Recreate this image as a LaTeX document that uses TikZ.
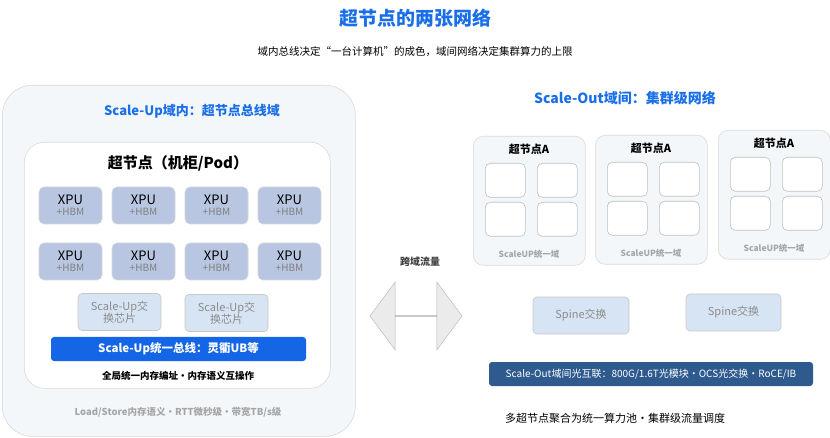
\documentclass[tikz,border=0pt]{standalone}
\usepackage{fontspec}
\setmainfont{Noto Sans CJK SC}
\usetikzlibrary{shapes.arrows}
\definecolor{titleblue}{HTML}{1A6FE8}
\definecolor{busblue}{HTML}{1466E6}
\definecolor{outblue}{HTML}{2F5A8E}
\definecolor{xpufill}{HTML}{B8C6E2}
\definecolor{swfill}{HTML}{D7E4F3}
\definecolor{panel}{HTML}{F3F7FA}
\tikzset{
  box/.style={draw=black!15,rounded corners=#1,line width=0.6pt},
  xpu/.style={box=5pt,fill=xpufill,minimum width=63pt,minimum height=37pt,align=center,inner sep=0pt},
  sw/.style={box=4pt,fill=swfill,draw=black!22,text=black!45,minimum width=83pt,minimum height=37pt,align=center,inner sep=0pt,font=\fontsize{11}{12}\selectfont},
  cell/.style={box=5pt,fill=white,draw=black!25,minimum width=40pt,minimum height=34pt},
  bar/.style={rounded corners=3pt,text=white,inner sep=0pt},
}
\newcommand{\snode}[3]{% name, x, y (top-left)
  \node[box=10pt,fill=panel,minimum width=112pt,minimum height=129pt,anchor=north west] (#1) at (#2,#3) {};
  \node[font=\bfseries\fontsize{11}{12}\selectfont] (#1t) at (#2+56,#3+13) {超节点A};
  \node[cell,anchor=north west] (#1a) at (#2+12,#3+27) {};
  \node[cell,anchor=north west] (#1b) at (#2+64,#3+27) {};
  \node[cell,anchor=north west] (#1c) at (#2+12,#3+66) {};
  \node[cell,anchor=north west] (#1d) at (#2+64,#3+66) {};
  \node[text=black!35,font=\bfseries\fontsize{8.5}{9}\selectfont] (#1l) at (#2+56,#3+118) {ScaleUP统一域};
}
\begin{document}
\begin{tikzpicture}[x=1pt,y=-1pt]
  \useasboundingbox (0,0) rectangle (830,438);
  % titles
  \node[text=titleblue,font=\bfseries\fontsize{19}{22}\selectfont] (title) at (415,18) {超节点的两张网络};
  \node[font=\fontsize{10.5}{12}\selectfont] (sub) at (415,52) {域内总线决定“一台计算机”的成色，域间网络决定集群算力的上限};
  % left panel
  \node[box=30pt,fill=panel,minimum width=353pt,minimum height=351pt,anchor=north west] (up) at (2,85) {};
  \node[text=titleblue,font=\bfseries\fontsize{13}{15}\selectfont] (uptitle) at (192,111) {Scale-Up域内：超节点总线域};
  \node[box=20pt,fill=white,minimum width=306pt,minimum height=246pt,anchor=north west] (pod) at (24,142) {};
  \node[font=\bfseries\fontsize{15}{17}\selectfont] (podt) at (178,163) {超节点（机柜/Pod）};
  \foreach \r/\y in {1/205.5,2/261.5}
    \foreach \c/\x in {1/70.5,2/143.5,3/216.5,4/289.5}
      \node[xpu] (xpu\r\c) at (\x,\y) {\fontsize{13}{14}\selectfont XPU\\[-1pt]{\color{black!50}\fontsize{10}{11}\selectfont +HBM}};
  \node[sw] (sw1) at (119.5,312) {Scale-Up交\\换芯片};
  \node[sw] (sw2) at (226.5,313) {Scale-Up交\\换芯片};
  \node[bar,fill=busblue,minimum width=255pt,minimum height=24pt,font=\bfseries\fontsize{11.5}{13}\selectfont] (bus) at (178.5,349) {Scale-Up统一总线：灵衢UB等};
  \node[font=\bfseries\fontsize{9.5}{11}\selectfont] (mem) at (178,376) {全局统一内存编址·内存语义互操作};
  \node[text=black!35,font=\bfseries\fontsize{9.5}{11}\selectfont] (ls) at (178,412) {Load/Store内存语义·RTT微秒级·带宽TB/s级};
  % cross-domain arrow
  \node[double arrow,draw=black!30,fill=black!8,minimum width=68pt,minimum height=92pt,double arrow head extend=16pt,double arrow tip angle=107,inner sep=0pt] (cross) at (416,316) {};
  \node[font=\bfseries\fontsize{10}{12}\selectfont,text=black!75] (crosst) at (420,262) {跨域流量};
  % right side
  \node[text=titleblue,font=\bfseries\fontsize{14}{16}\selectfont] (outtitle) at (625,98) {Scale-Out域间：集群级网络};
  \snode{na}{473}{136}
  \snode{nb}{595}{135}
  \snode{nc}{718}{130}
  \node[sw,minimum width=96pt] (sp1) at (581,315.5) {Spine交换};
  \node[sw,minimum width=95pt] (sp2) at (733.5,312.5) {Spine交换};
  \node[bar,fill=outblue,minimum width=324pt,minimum height=24pt,font=\fontsize{10}{11}\selectfont] (obar) at (651,374) {Scale-Out域间光互联：800G/1.6T光模块·OCS光交换·RoCE/IB};
  \node[font=\fontsize{11}{13}\selectfont] (pool) at (615,418) {多超节点聚合为统一算力池·集群级流量调度};
\end{tikzpicture}
\end{document}
